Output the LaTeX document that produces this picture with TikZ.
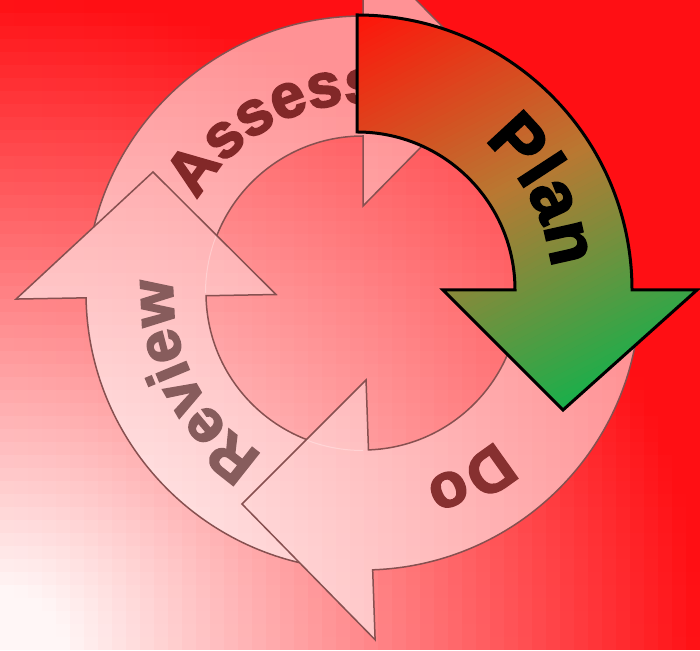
\documentclass[tikz,border=0pt]{standalone}
\usepackage{fontspec}
\newfontfamily\heavy{Liberation Sans}[BoldFeatures={FakeBold=3}]
\usetikzlibrary{decorations.text}
\definecolor{bgred}{RGB}{255,15,20}
\definecolor{bgwhite}{RGB}{255,246,246}
\definecolor{paleline}{RGB}{135,80,80}
\definecolor{asstext}{RGB}{130,40,40}
\definecolor{dotext}{RGB}{135,48,48}
\definecolor{revtext}{RGB}{135,92,92}
\definecolor{planA}{RGB}{255,20,10}
\definecolor{planM}{RGB}{185,120,50}
\definecolor{planD}{RGB}{25,175,75}
\tikzset{
  paleedge/.style={draw=paleline, line width=1.5pt, line join=miter},
  planedge/.style={draw=black, line width=3pt, line join=miter},
  palewash/.style={fill=white, fill opacity=0.55},
  paleshift/.style={shift={(363,357)}},
  planshift/.style={shift={(357,360)}},
}
% pale ring: centre (363,357), R=277, r=157
\newcommand\assesspath{(180:277) arc[start angle=180,end angle=90,radius=277] -- (90:347) -- (128,217) -- (90:87) -- (90:157) arc[start angle=90,end angle=180,radius=157] -- cycle}
\newcommand\reviewpath{(270:277) arc[start angle=270,end angle=181,radius=277] -- (181:347) -- (-210,121) -- (181:87) -- (181:157) arc[start angle=181,end angle=270,radius=157] -- cycle}
\newcommand\dopath{(0:277) arc[start angle=360,end angle=272,radius=277] -- (272:347) -- (-121,-211) -- (272:87) -- (272:157) arc[start angle=272,end angle=360,radius=157] -- cycle}
% plan arrow: centre (357,360), R=275, r=158
\newcommand\planpath{(90:275) arc[start angle=90,end angle=0,radius=275] -- (0:340) -- (206,-120) -- (0:86) -- (0:158) arc[start angle=0,end angle=90,radius=158] -- cycle}
\newcommand\lbl[2]{|\heavy\bfseries\fontsize{#1}{#1}\selectfont\color{#2}|}
\begin{document}
\begin{tikzpicture}[x=1pt,y=1pt]
\useasboundingbox (0,0) rectangle (700,650);
\clip (0,0) rectangle (700,650);
% background: red, whitening radially towards the lower left corner
\foreach \ii in {0,...,49}{%
  \foreach \jj in {0,...,49}{%
    \pgfmathsetmacro\pc{max(0,min(100,110*(1-sqrt(((\ii+0.5)/50)^2+((\jj+0.5)/50)^2))))}%
    \fill[bgwhite!\pc!bgred] (\ii*14,\jj*13) rectangle (\ii*14+14.6,\jj*13+13.6);
  }}
% lighter hole of the ring (not under the arrows)
\begin{scope}[even odd rule]
  \clip[paleshift] (-400,-400) rectangle (400,400) \assesspath \reviewpath \dopath;
  \fill[white, fill opacity=0.3] (363,357) circle (158);
\end{scope}
% one wash for the three pale arrows
\path[paleshift, palewash] \assesspath \reviewpath \dopath;
% outlines: each hidden where the next arrow lies over it
\begin{scope}[even odd rule]
  \clip[paleshift] (-400,-400) rectangle (400,400) \reviewpath;
  \path[paleshift, paleedge] \assesspath;
\end{scope}
\begin{scope}[even odd rule]
  \clip[paleshift] (-400,-400) rectangle (400,400) \dopath;
  \path[paleshift, paleedge] \reviewpath;
\end{scope}
\path[paleshift, paleedge] \dopath;
% labels of the pale arrows
\path[paleshift, decorate, decoration={text along path, text align=center,
   text={\lbl{62}{asstext}Assess}}] (149:190) arc[start angle=149,end angle=87,radius=190];
\path[paleshift, decorate, decoration={text along path, text align=center,
   text={\lbl{60}{revtext}Review}}] (240:190) arc[start angle=240,end angle=174,radius=190];
\path[paleshift, decorate, decoration={text along path, text align=center,
   text={\lbl{62}{dotext}Do}}] (-30:198) arc[start angle=-30,end angle=-90,radius=198];
% Plan (highlighted), diagonal red -> green gradient drawn as bands
\begin{scope}
  \clip[planshift] \planpath;
  \begin{scope}[planshift, shift={(103,77.5)}, rotate=27.5]
    \fill[planA] (-400,400) rectangle (400,-400);
    \foreach \kk in {0,...,79}{%
      \pgfmathsetmacro\tk{(\kk+0.5)/80}%
      \pgfmathsetmacro\yy{222.5-\kk*5.5625}%
      \ifdim\tk pt<0.5pt
        \pgfmathsetmacro\pc{\tk*200}\def\cA{planA}\def\cB{planM}%
      \else
        \pgfmathsetmacro\pc{(\tk-0.5)*200}\def\cA{planM}\def\cB{planD}%
      \fi
      \fill[\cB!\pc!\cA] (-400,\yy) rectangle (400,-400);
    }
  \end{scope}
\end{scope}
\path[planshift, planedge] \planpath;
\path[planshift, decorate, decoration={text along path, text align=center,
   text={\lbl{70}{black}Plan}}] (58:196) arc[start angle=58,end angle=-2,radius=196];
\end{tikzpicture}
\end{document}
